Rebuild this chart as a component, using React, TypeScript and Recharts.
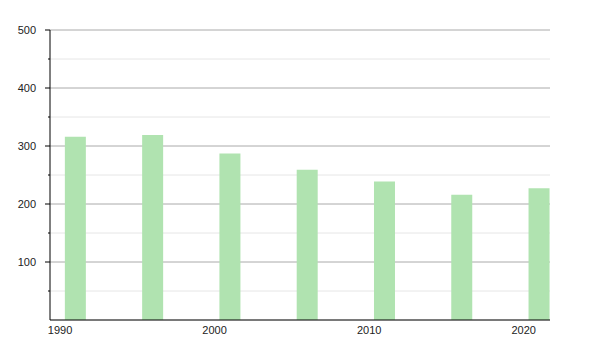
import { BarChart, Bar, XAxis, YAxis, CartesianGrid } from "recharts";

const years = [1991, 1996, 2001, 2006, 2011, 2016, 2021];
const values = [316, 319, 287, 259, 239, 216, 227];
const xTicks = [1990, 2000, 2010, 2020];
const yTicks = [50, 100, 150, 200, 250, 300, 350, 400, 450, 500];

const data = years.map((year, i) => ({ year, value: values[i] }));

const YTick = (props: any) => {
  const { x, y, payload } = props;
  const major = payload.value % 100 === 0;
  return (
    <g>
      <line x1={major ? x - 5 : x - 2} x2={x} y1={y} y2={y} stroke="#000" />
      {major && (
        <text x={x - 14} y={y} dy="0.35em" textAnchor="end" fontSize={11} fill="#222">
          {payload.value}
        </text>
      )}
    </g>
  );
};

// grid lines follow the y ticks: even index = minor (50, 150, ...), odd = major
const GridLine = (props: any) => {
  const { x1, x2, y1, y2, index } = props;
  const major = index % 2 === 1;
  return (
    <line x1={x1} x2={x2} y1={y1} y2={y2} stroke={major ? "#aaaaaa" : "#e6e6e6"} />
  );
};

export default function App() {
  return (
    <div style={{ fontFamily: "'Liberation Sans', Arial, sans-serif" }}>
      <BarChart
        width={592}
        height={342}
        data={data}
        margin={{ top: 22, right: 50, left: 0, bottom: 0 }}
      >
        <CartesianGrid vertical={false} horizontal={GridLine} />
        <XAxis
          dataKey="year"
          type="number"
          domain={[1989.35, 2021.7]}
          ticks={xTicks}
          allowDataOverflow
          tickLine={false}
          tickMargin={0}
          height={30}
          axisLine={{ stroke: "#000" }}
          tick={{ fontSize: 11, fill: "#222" }}
        />
        <YAxis
          type="number"
          domain={[0, 500]}
          ticks={yTicks}
          interval={0}
          width={42}
          tickLine={false}
          tickSize={0}
          tickMargin={0}
          axisLine={{ stroke: "#000" }}
          tick={<YTick />}
        />
        <Bar dataKey="value" fill="#b0e3b0" barSize={21} isAnimationActive={false} />
      </BarChart>
    </div>
  );
}
